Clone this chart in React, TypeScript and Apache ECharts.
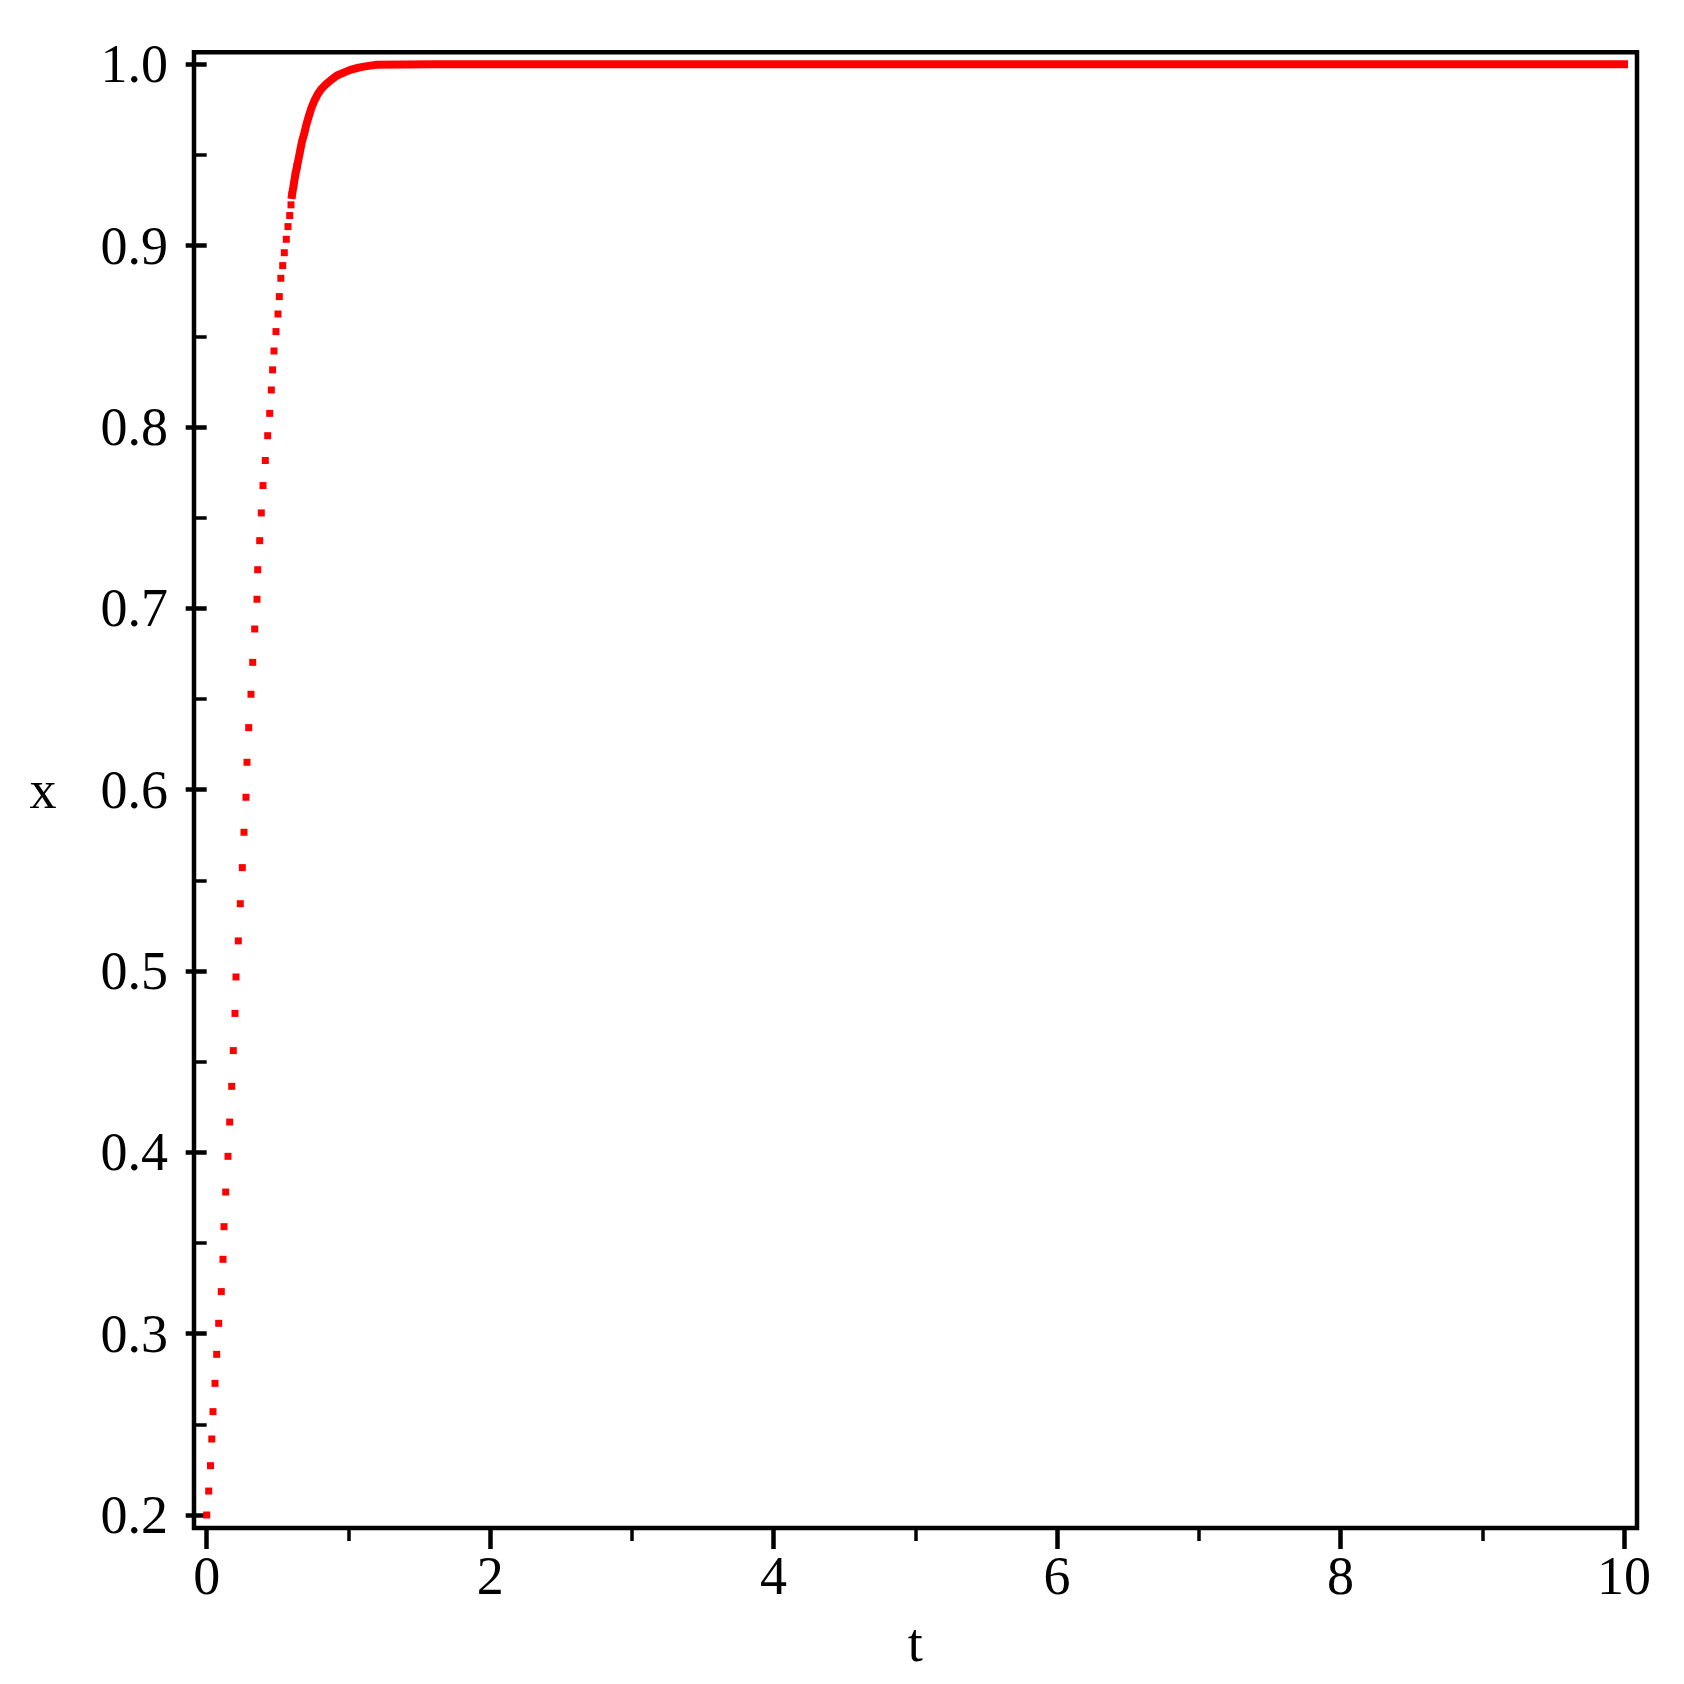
import React, { useEffect, useRef } from "react";
import * as echarts from "echarts";

// Individually visible dots (t, x)
const tDots = [
  0, 0.0141, 0.027, 0.036, 0.0445, 0.0586, 0.0706, 0.0847, 0.103, 0.115, 0.1221, 0.1341,
  0.1503, 0.1623, 0.1764, 0.1877, 0.1997, 0.2067, 0.223, 0.2371, 0.2512, 0.2632, 0.2773,
  0.2843, 0.2963, 0.3126, 0.3246, 0.3387, 0.3549, 0.3598, 0.374, 0.3852, 0.3972, 0.4135,
  0.4304, 0.4445, 0.456, 0.465, 0.4749, 0.489, 0.5031, 0.5122, 0.523, 0.5362, 0.5475,
  0.5616, 0.5736, 0.5856, 0.5948, 0.6019, 0.6138, 0.6251, 0.6371,
];
const xDots = [
  0.2, 0.2132, 0.2272, 0.2419, 0.257, 0.2726, 0.2886, 0.3057, 0.3232, 0.341, 0.359, 0.3781,
  0.3978, 0.4167, 0.4364, 0.4561, 0.4766, 0.4967, 0.5166, 0.5371, 0.557, 0.5765, 0.5958,
  0.6151, 0.6342, 0.6526, 0.6702, 0.6886, 0.705, 0.7213, 0.7373, 0.7526, 0.7677, 0.7815,
  0.7952, 0.8075, 0.8204, 0.8315, 0.8419, 0.8526, 0.8623, 0.8719, 0.882, 0.889, 0.8961,
  0.9035, 0.9105, 0.9166, 0.9225, 0.928, 0.9335, 0.939, 0.9436,
];

// Dense part of the curve where the dots merge into a solid band
const tCurve = [
  0.6019, 0.6138, 0.6251, 0.6371, 0.6491, 0.6604, 0.6724, 0.6886, 0.7028,
  0.7197, 0.738, 0.7592, 0.7832, 0.8086, 0.8417, 0.877, 0.9194, 0.9666, 1.0132, 1.0725,
  1.1077, 1.19, 1.6, 10,
];
const xCurve = [
  0.928, 0.9335, 0.939, 0.9436, 0.9482, 0.9528, 0.9574, 0.962, 0.9666,
  0.9712, 0.9757, 0.9798, 0.9835, 0.9864, 0.989, 0.9914, 0.9938, 0.9954, 0.9969, 0.9982,
  0.9987, 0.9997, 1.0, 1.0,
];

const tMin = 0;
const tMax = 10;
const tStep = 2;
const xMin = 0.2;
const xMax = 1.0;
const xStep = 0.1;

export default function App() {
  const ref = useRef<HTMLDivElement>(null);
  useEffect(() => {
    const chart = echarts.init(ref.current!, null, { renderer: "svg" });
    const font = "'Liberation Serif', 'Times New Roman', serif";
    const dotData = tDots.map((t, i) => [t, xDots[i]]);
    const curveData = tCurve.map((t, i) => [t, xCurve[i]]);
    chart.setOption({
      animation: false,
      backgroundColor: "#ffffff",
      grid: { left: 206.7, right: 60, top: 64.3, bottom: 169, containLabel: false },
      xAxis: {
        type: "value",
        min: tMin,
        max: tMax,
        interval: tStep,
        offset: 13,
        axisLine: { show: false },
        axisTick: { show: true, length: 21, lineStyle: { color: "#000", width: 4.5 } },
        minorTick: { show: true, splitNumber: 2, length: 13, lineStyle: { color: "#000", width: 3.5 } },
        splitLine: { show: false },
        minorSplitLine: { show: false },
        axisLabel: { color: "#000", fontFamily: font, fontSize: 54, margin: 21 },
        name: "t",
        nameLocation: "middle",
        nameGap: 115,
        nameTextStyle: { color: "#000", fontFamily: font, fontSize: 54, align: "center", verticalAlign: "middle" },
      },
      yAxis: {
        type: "value",
        min: xMin,
        max: xMax,
        interval: xStep,
        offset: 12.7,
        axisLine: { show: false },
        axisTick: { show: true, length: 21, lineStyle: { color: "#000", width: 4.5 } },
        minorTick: { show: true, splitNumber: 2, length: 13, lineStyle: { color: "#000", width: 3.5 } },
        splitLine: { show: false },
        minorSplitLine: { show: false },
        axisLabel: {
          color: "#000",
          fontFamily: font,
          fontSize: 54,
          margin: 26,
          formatter: (v: number) => v.toFixed(1),
        },
        name: "x",
        nameLocation: "middle",
        nameRotate: 0,
        nameGap: 151,
        nameTextStyle: { color: "#000", fontFamily: font, fontSize: 54, align: "center", verticalAlign: "middle" },
      },
      graphic: [
        {
          type: "rect",
          shape: { x: 194, y: 52.3, width: 1443, height: 1475.7 },
          style: { fill: "none", stroke: "#000", lineWidth: 4.5 },
          z: 100,
        },
      ],
      series: [
        {
          type: "scatter",
          data: dotData,
          symbol: "rect",
          symbolSize: 7,
          itemStyle: { color: "#ff0000", opacity: 1 },
          clip: false,
        },
        {
          type: "line",
          data: curveData,
          showSymbol: false,
          smooth: false,
          lineStyle: { color: "#ff0000", width: 8, cap: "square", join: "round", opacity: 1 },
          clip: false,
        },
      ],
    });
    return () => chart.dispose();
  }, []);
  return (
    <div
      ref={ref}
      style={{ position: "fixed", left: 0, top: 0, width: 1684, height: 1684, background: "#fff" }}
    />
  );
}
